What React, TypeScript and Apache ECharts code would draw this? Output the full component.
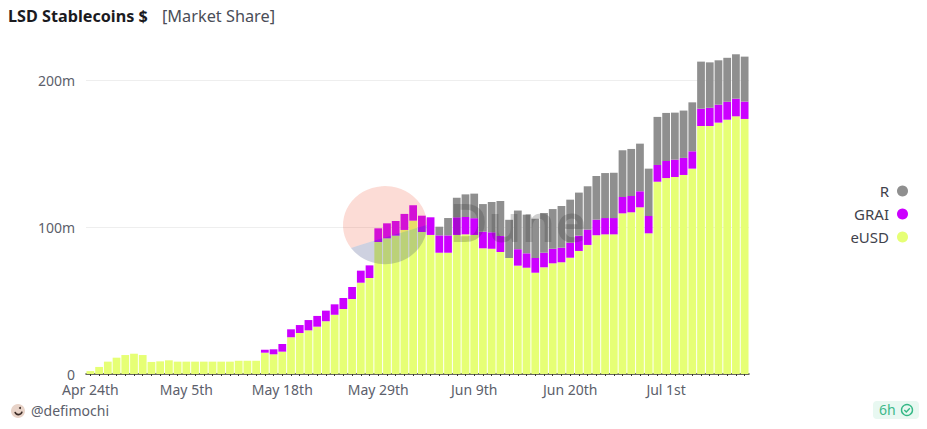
import React, { useEffect, useRef } from "react";
import * as echarts from "echarts";

const categories = [
  "Apr 24th","Apr 25th","Apr 26th","Apr 27th","Apr 28th","Apr 29th","Apr 30th",
  "May 1st","May 2nd","May 3rd","May 4th","May 5th","May 6th","May 7th","May 8th","May 10th","May 11th","May 12th","May 13th","May 15th","May 16th","May 17th",
  "May 18th","May 19th","May 20th","May 21st","May 22nd","May 23rd","May 24th","May 25th","May 26th","May 27th","May 28th","May 29th","May 30th","May 31st",
  "Jun 1st","Jun 2nd","Jun 3rd","Jun 4th","Jun 5th","Jun 6th","Jun 7th","Jun 8th","Jun 9th","Jun 10th","Jun 11th","Jun 12th","Jun 13th","Jun 14th","Jun 15th","Jun 16th","Jun 17th","Jun 18th","Jun 19th","Jun 20th",
  "Jun 21st","Jun 22nd","Jun 23rd","Jun 24th","Jun 25th","Jun 26th","Jun 27th","Jun 28th","Jun 29th","Jun 30th",
  "Jul 1st","Jul 2nd","Jul 3rd","Jul 4th","Jul 5th","Jul 6th","Jul 7th","Jul 8th","Jul 9th","Jul 10th",
];

const eUSD = [
  2, 4.8, 8.4, 11.1, 12.9, 13.8, 12.9, 8.2, 8.6, 9.3,
  8.4, 8.4, 8.4, 8.4, 8.4, 8.4, 8.4, 9, 9, 9,
  14.5, 13.4, 15.2, 25, 27.9, 29.7, 32.2, 35.9, 40.3, 44.2,
  51, 62.1, 65.3, 89.8, 92.3, 94.1, 98, 104.3, 96.6, 94.6,
  82.5, 82.5, 94.6, 95, 94.6, 85.5, 85.2, 83, 78.9, 73.7,
  72.3, 68.9, 72.6, 75.3, 76, 79.1, 83.7, 87.8, 94.4, 95,
  95, 109.3, 110, 113.4, 95.7, 130.8, 133.3, 134, 135.4, 139.7,
  168.7, 168.7, 171, 173, 175.3, 173.5,
];

const GRAI = [
  0, 0, 0, 0, 0, 0, 0, 0, 0, 0,
  0, 0, 0, 0, 0, 0, 0, 0, 0, 0,
  2, 3.4, 5.2, 5.4, 5.4, 7, 7.3, 7.2, 7.1, 7.5,
  8.2, 8.2, 8.6, 9.3, 10.2, 10, 10.9, 10.5, 11.1, 12,
  11.8, 11.8, 12, 11.8, 11.4, 11.3, 11.2, 10.9, 0, 11.2,
  9.8, 10, 9.9, 9.9, 9.9, 10.2, 10.4, 10.4, 10.6, 11.1,
  11.1, 11.1, 11.1, 10.9, 11.8, 11.4, 11.6, 11.8, 11.6, 11.8,
  11.8, 12.4, 12.2, 12.2, 12, 11.8,
];

const R = [
  0, 0, 0, 0, 0, 0, 0, 0, 0, 0,
  0, 0, 0, 0, 0, 0, 0, 0, 0, 0,
  0, 0, 0, 0, 0, 0, 0, 0, 0, 0,
  0, 0, 0, 0, 0, 0, 0, 0, 0, 0,
  5.9, 11.8, 13.3, 15.4, 16.7, 18.8, 20.6, 23.8, 26, 26.3,
  26.3, 26.7, 27, 27, 28.4, 29.3, 29.3, 29.5, 29.7, 30.6,
  30.8, 31.8, 32, 32.4, 32.2, 32.7, 32.7, 32, 32.2, 33.3,
  32, 30.9, 30.2, 29.9, 30.2, 30.6,
];

const FONT = "'Noto Sans', 'Open Sans', sans-serif";

echarts.graphic.registerShape(
  "dunePink",
  echarts.graphic.extendPath(
    "M351 248 C 373 241, 400 233, 427 225 A 42 39 0 1 0 351 248 Z",
    {}
  )
);
echarts.graphic.registerShape(
  "duneBlue",
  echarts.graphic.extendPath(
    "M351 248 C 373 241, 400 233, 427 225 A 42 39 0 0 1 351 248 Z",
    {}
  )
);

export default function App() {
  const ref = useRef<HTMLDivElement>(null);
  useEffect(() => {
    const chart = echarts.init(ref.current!, undefined, { renderer: "svg" });
    const bar = (name: string, data: number[], color: string) => ({
      name,
      type: "bar",
      stack: "total",
      data,
      barCategoryGap: "11%",
      itemStyle: { color },
      emphasis: { disabled: true },
    });
    chart.setOption({
      animation: false,
      backgroundColor: "#ffffff",
      textStyle: { fontFamily: FONT },
      title: [
        {
          text: "LSD Stablecoins $",
          left: 8,
          top: 8,
          padding: 0,
          textStyle: { fontFamily: FONT, fontSize: 16.2, fontWeight: 700, color: "#1b1b1f" },
        },
        {
          text: "[Market Share]",
          left: 162,
          top: 8,
          padding: 0,
          textStyle: { fontFamily: FONT, fontSize: 16.3, fontWeight: 400, color: "#4a4d57" },
        },
      ],
      legend: {
        orient: "vertical",
        right: 19,
        top: 183.5,
        align: "right",
        icon: "circle",
        itemWidth: 11,
        itemHeight: 11,
        itemGap: 8,
        padding: 0,
        selectedMode: false,
        data: ["R", "GRAI", "eUSD"],
        textStyle: { fontFamily: FONT, fontSize: 15, lineHeight: 11, color: "#3f424c", padding: [0, 3, 0, 0] },
      },
      grid: { left: 86, right: 178, top: 50.6, height: 323.4 },
      xAxis: {
        type: "category",
        data: categories,
        axisLine: { lineStyle: { color: "#3a3a32", width: 1.5 } },
        axisTick: { show: true, interval: 0, alignWithLabel: true, length: 2, lineStyle: { color: "#3a3a32" } },
        axisLabel: { interval: 10, margin: 9, lineHeight: 12, fontFamily: FONT, fontSize: 14, color: "#5c606b", hideOverlap: false },
      },
      yAxis: {
        type: "value",
        min: 0,
        max: 220,
        interval: 100,
        axisLine: { show: false },
        axisTick: { show: false },
        axisLabel: {
          margin: 11,
          lineHeight: 12,
          padding: [0, 0, 2, 0],
          fontFamily: FONT,
          fontSize: 14,
          color: "#5c606b",
          showMaxLabel: false,
          formatter: (v: number) => (v === 0 ? "0" : v + "m"),
        },
        splitLine: { show: true, showMaxLine: false, lineStyle: { color: "#eeeeee", width: 1 } },
      },
      series: [bar("eUSD", eUSD, "#e6ff75"), bar("GRAI", GRAI, "#cc00ff"), bar("R", R, "#8f8f8f")],
      graphic: [
        { type: "dunePink", z: 100, silent: true, style: { fill: "rgba(240,80,50,0.2)" } },
        { type: "duneBlue", z: 100, silent: true, style: { fill: "rgba(60,70,130,0.25)" } },
        {
          type: "text",
          z: 100,
          silent: true,
          x: 449,
          y: 195,
          style: {
            text: "Dune",
            fontFamily: FONT,
            fontSize: 53,
            fontWeight: 600,
            fill: "rgba(40,40,40,0.22)",
          },
        },
        // author avatar
        { type: "circle", shape: { cx: 18, cy: 411, r: 7 }, style: { fill: "#e8d3c8" } },
        { type: "arc", shape: { cx: 18.5, cy: 411, r: 3.6, startAngle: 0.2, endAngle: 2.9 }, style: { stroke: "#3a2a25", lineWidth: 1.6, fill: "none" } },
        { type: "circle", shape: { cx: 20, cy: 408, r: 1 }, style: { fill: "#3a2a25" } },
        {
          type: "text",
          x: 31,
          y: 403,
          style: { text: "@defimochi", fontFamily: FONT, fontSize: 14, fill: "#5c606b" },
        },
        // freshness badge
        { type: "rect", shape: { x: 873, y: 401, width: 46, height: 18, r: 4 }, style: { fill: "#e8f8f1" } },
        {
          type: "text",
          x: 879,
          y: 402,
          style: { text: "6h", fontFamily: FONT, fontSize: 14, fill: "#3cb98a" },
        },
        { type: "circle", shape: { cx: 907, cy: 410, r: 5.5 }, style: { fill: "none", stroke: "#35b886", lineWidth: 1.4 } },
        { type: "polyline", shape: { points: [[904.3, 410], [906.3, 412], [909.8, 408.3]] }, style: { fill: "none", stroke: "#35b886", lineWidth: 1.4 } },
      ],
    });
    return () => chart.dispose();
  }, []);
  return (
    <div
      ref={ref}
      style={{ position: "fixed", left: 0, top: 0, width: 927, height: 429, background: "#fff" }}
    />
  );
}
